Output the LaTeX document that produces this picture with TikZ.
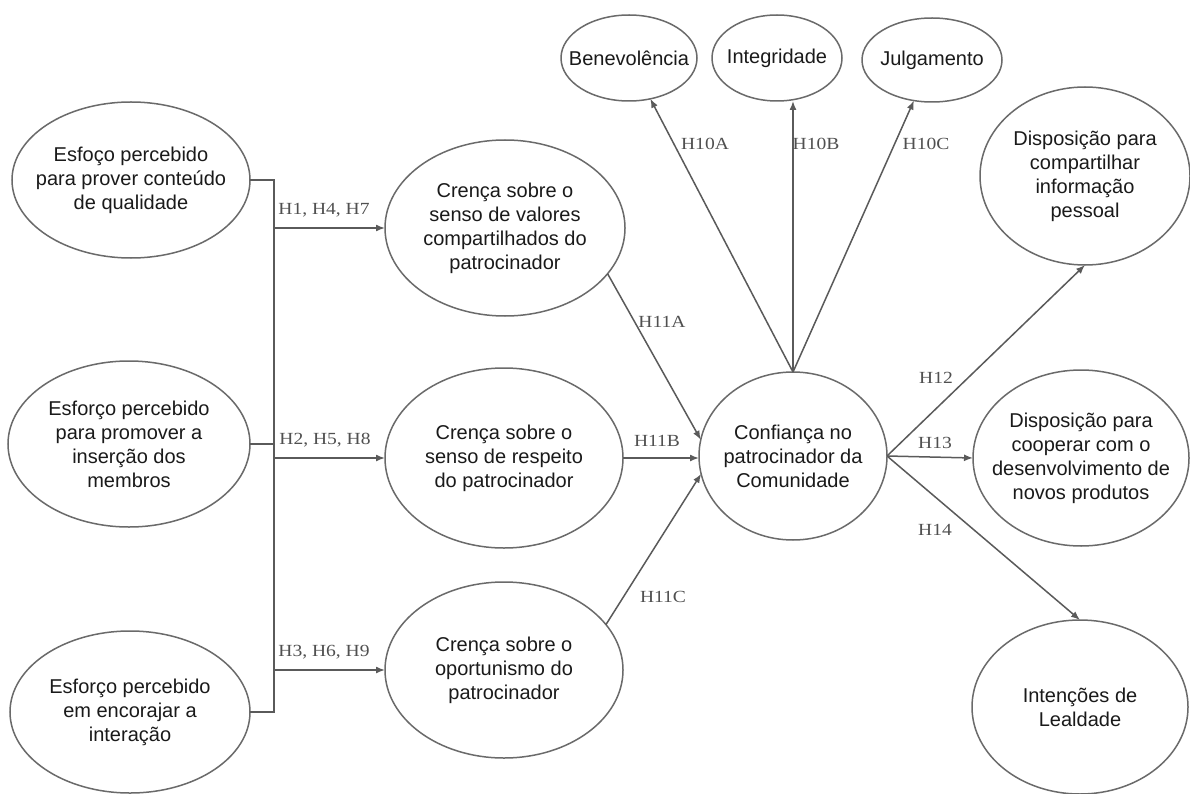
\documentclass[tikz,border=0pt]{standalone}
\usepackage{fontspec}
\usepackage{graphicx}
\setmainfont{Liberation Sans}
\newfontfamily\labfont{Liberation Serif}
\usetikzlibrary{shapes.geometric,arrows.meta}

\definecolor{linegray}{HTML}{5A5A5A}
\definecolor{bordergray}{HTML}{6A6A6A}
\definecolor{labgray}{HTML}{505050}
\definecolor{txt}{HTML}{1A1A1A}

\tikzset{
  construct/.style={ellipse, draw=bordergray, line width=1.5pt, fill=white,
    inner sep=-60pt, outer sep=0pt, align=center, text=txt,
    font=\fontsize{20}{24}\selectfont},
  link/.style={draw=linegray, line width=1.5pt},
  arr/.style={link, -{Latex[length=9pt,width=7pt]}},
  hlab/.style={text=labgray, inner sep=1pt,
    font=\labfont\fontsize{17}{20}\selectfont}
}
\newcommand{\hl}[1]{\scalebox{1.15}[1]{#1}}

\begin{document}
\begin{tikzpicture}[x=1pt,y=-1pt]
\useasboundingbox[fill=white] (0,0) rectangle (1190,794);

% antecedent efforts
\node[construct, minimum width=238pt, minimum height=156pt] (e1) at (131,180)
  {Esfoço percebido\\para prover conteúdo\\de qualidade};
\node[construct, minimum width=242pt, minimum height=166pt] (e2) at (129,444)
  {Esforço percebido\\para promover a\\inserção dos\\membros};
\node[construct, minimum width=240pt, minimum height=162pt] (e3) at (130,712)
  {Esforço percebido\\em encorajar a\\interação};

% beliefs about the sponsor
\node[construct, minimum width=240pt, minimum height=176pt] (c1) at (505,228)
  {Crença sobre o\\senso de valores\\compartilhados do\\patrocinador};
\node[construct, minimum width=238pt, minimum height=180pt] (c2) at (504,458)
  {Crença sobre o\\senso de respeito\\do patrocinador};
\node[construct, minimum width=238pt, minimum height=176pt] (c3) at (504,670)
  {Crença sobre o\\oportunismo do\\patrocinador};

% trust and its dimensions
\node[construct, minimum width=188pt, minimum height=168pt] (conf) at (793,456)
  {Confiança no\\patrocinador da\\Comunidade};
\node[construct, minimum width=136pt, minimum height=86pt] (ben) at (629,58)
  {Benevolência};
\node[construct, minimum width=130pt, minimum height=86pt] (int) at (777,58)
  {Integridade};
\node[construct, minimum width=140pt, minimum height=84pt] (jul) at (932,60)
  {Julgamento};

% outcomes
\node[construct, minimum width=210pt, minimum height=178pt] (d1) at (1085,176)
  {Disposição para\\compartilhar\\informação\\pessoal};
\node[construct, minimum width=216pt, minimum height=176pt] (d2) at (1081,458)
  {Disposição para\\cooperar com o\\desenvolvimento de\\novos produtos};
\node[construct, minimum width=216pt, minimum height=174pt] (d3) at (1080,707)
  {Intenções de\\Lealdade};

% bus joining the three efforts
\coordinate (bt) at (274,180);
\coordinate (bb) at (274,712);
\draw[link] (e1.east) -- (bt) -- (bb) -- (e3.east);
\draw[link] (e2.east) -- (e2.east -| bt);
\draw[arr] (bt |- c1) -- (c1.west);
\draw[arr] (bt |- c2) -- (c2.west);
\draw[arr] (bt |- c3) -- (c3.west);

% beliefs -> trust
\draw[arr] (c1.-24) -- (conf.170);
\draw[arr] (c2.east) -- (c2.east -| conf.west);
\draw[arr] (c3.24) -- (conf.191);

% trust -> dimensions
\draw[arr] (conf.north) -- (ben);
\draw[arr] (conf.north) -- (conf.north |- int.south);
\draw[arr] (conf.north) -- (jul);

% trust -> outcomes
\draw[arr] (conf.east) -- (d1.south);
\draw[arr] (conf.east) -- (d2.west);
\draw[arr] (conf.east) -- (d3.north);

% hypothesis labels
\node[hlab] (h1) at (324,210) {\hl{H1, H4, H7}};
\node[hlab] (h2) at (325,440) {\hl{H2, H5, H8}};
\node[hlab] (h3) at (324,652) {\hl{H3, H6, H9}};
\node[hlab] (h10a) at (705,144) {\hl{H10A}};
\node[hlab] (h10b) at (816,144) {\hl{H10B}};
\node[hlab] (h10c) at (926,144) {\hl{H10C}};
\node[hlab] (h11a) at (662,322) {\hl{H11A}};
\node[hlab] (h11b) at (657,441) {\hl{H11B}};
\node[hlab] (h11c) at (663,597) {\hl{H11C}};
\node[hlab] (h12) at (936,378) {\hl{H12}};
\node[hlab] (h13) at (935,443) {\hl{H13}};
\node[hlab] (h14) at (935,530) {\hl{H14}};
\end{tikzpicture}
\end{document}
